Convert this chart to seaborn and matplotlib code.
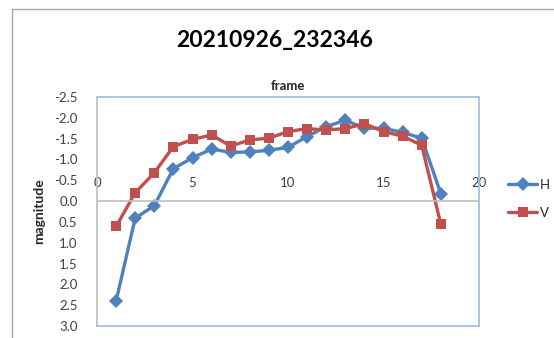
import matplotlib
matplotlib.use("Agg")
import matplotlib.pyplot as plt
from matplotlib.patches import Rectangle
import seaborn as sns
import pandas as pd

# frame-by-frame magnitudes for the two channels
frames = list(range(1, 19))
h_values = [2.40, 0.41, 0.11, -0.78, -1.04, -1.25, -1.17, -1.18, -1.22,
            -1.29, -1.55, -1.79, -1.94, -1.75, -1.75, -1.65, -1.51, -0.18]
v_values = [0.61, -0.20, -0.68, -1.31, -1.48, -1.59, -1.32, -1.47, -1.51,
            -1.67, -1.74, -1.71, -1.74, -1.86, -1.67, -1.56, -1.34, 0.55]
x_ticks = [0, 5, 10, 15, 20]
y_ticks = [-2.5, -2.0, -1.5, -1.0, -0.5, 0.0, 0.5, 1.0, 1.5, 2.0, 2.5, 3.0]

sns.set_theme(style="white")
plt.rcParams["font.family"] = ["Lato", "DejaVu Sans"]

W, H = 554, 338
fig = plt.figure(figsize=(W / 100, H / 100), dpi=100)
fig.patch.set_facecolor("white")

# outer chart frame
fig.patches.append(Rectangle((12 / W, -0.2), 1.2, 1 - 9 / H + 0.2,
                             transform=fig.transFigure, fill=False,
                             edgecolor="#a6a6a6", linewidth=1.0))

ax = fig.add_axes([97 / W, 12 / H, 382 / W, 229 / H])

df = pd.DataFrame({
    "frame": frames * 2,
    "magnitude": h_values + v_values,
    "series": ["H"] * len(frames) + ["V"] * len(frames),
})
sns.lineplot(data=df, x="frame", y="magnitude", hue="series", style="series",
             palette={"H": "#4F81BD", "V": "#C0504D"},
             markers={"H": "D", "V": "s"}, dashes=False,
             markersize=7.5, linewidth=2.4, markeredgewidth=0, ax=ax)

ax.set_xlim(0, 20)
ax.set_ylim(3.0, -2.5)
ax.set_xticks(x_ticks)
ax.set_yticks(y_ticks)
ax.set_yticklabels([f"{t:.1f}" for t in y_ticks])

# horizontal category axis crosses at zero, labels above it
ax.spines["top"].set_position(("data", 0))
ax.spines["top"].set_color("#bfbfbf")
ax.spines["top"].set_linewidth(1.2)
ax.xaxis.set_ticks_position("top")
ax.tick_params(axis="x", length=0, pad=9, labelsize=9.5, colors="#404040")
ax.tick_params(axis="y", length=0, pad=14, labelsize=9.5, colors="#404040")

ax.spines["left"].set_color("#bfbfbf")
for side in ("right", "bottom"):
    ax.spines[side].set_color("#9dbbe0")
    ax.spines[side].set_linewidth(1.2)
ax.add_patch(Rectangle((0, 1), 1, 0, transform=ax.transAxes, clip_on=False,
                       fill=False, edgecolor="#9dbbe0", linewidth=1.2))

ax.set_xlabel("")
ax.set_ylabel("magnitude", fontsize=10, fontweight="bold", labelpad=6)
ax.set_title("frame", fontsize=9.5, fontweight="bold", pad=5)

fig.text(275 / W, 1 - 40 / H, "20210926_232346", ha="center", va="center",
         fontsize=16.5, fontweight="bold", color="black")

handles, labels = ax.get_legend_handles_labels()
ax.legend(handles, labels, loc="center left",
          bbox_to_anchor=(508 / W, 1 - 199 / H), bbox_transform=fig.transFigure,
          frameon=False, fontsize=9.5, labelspacing=1.2, handlelength=2.2,
          handletextpad=0.2, borderaxespad=0, borderpad=0)

fig.savefig("out.png", dpi=100)
